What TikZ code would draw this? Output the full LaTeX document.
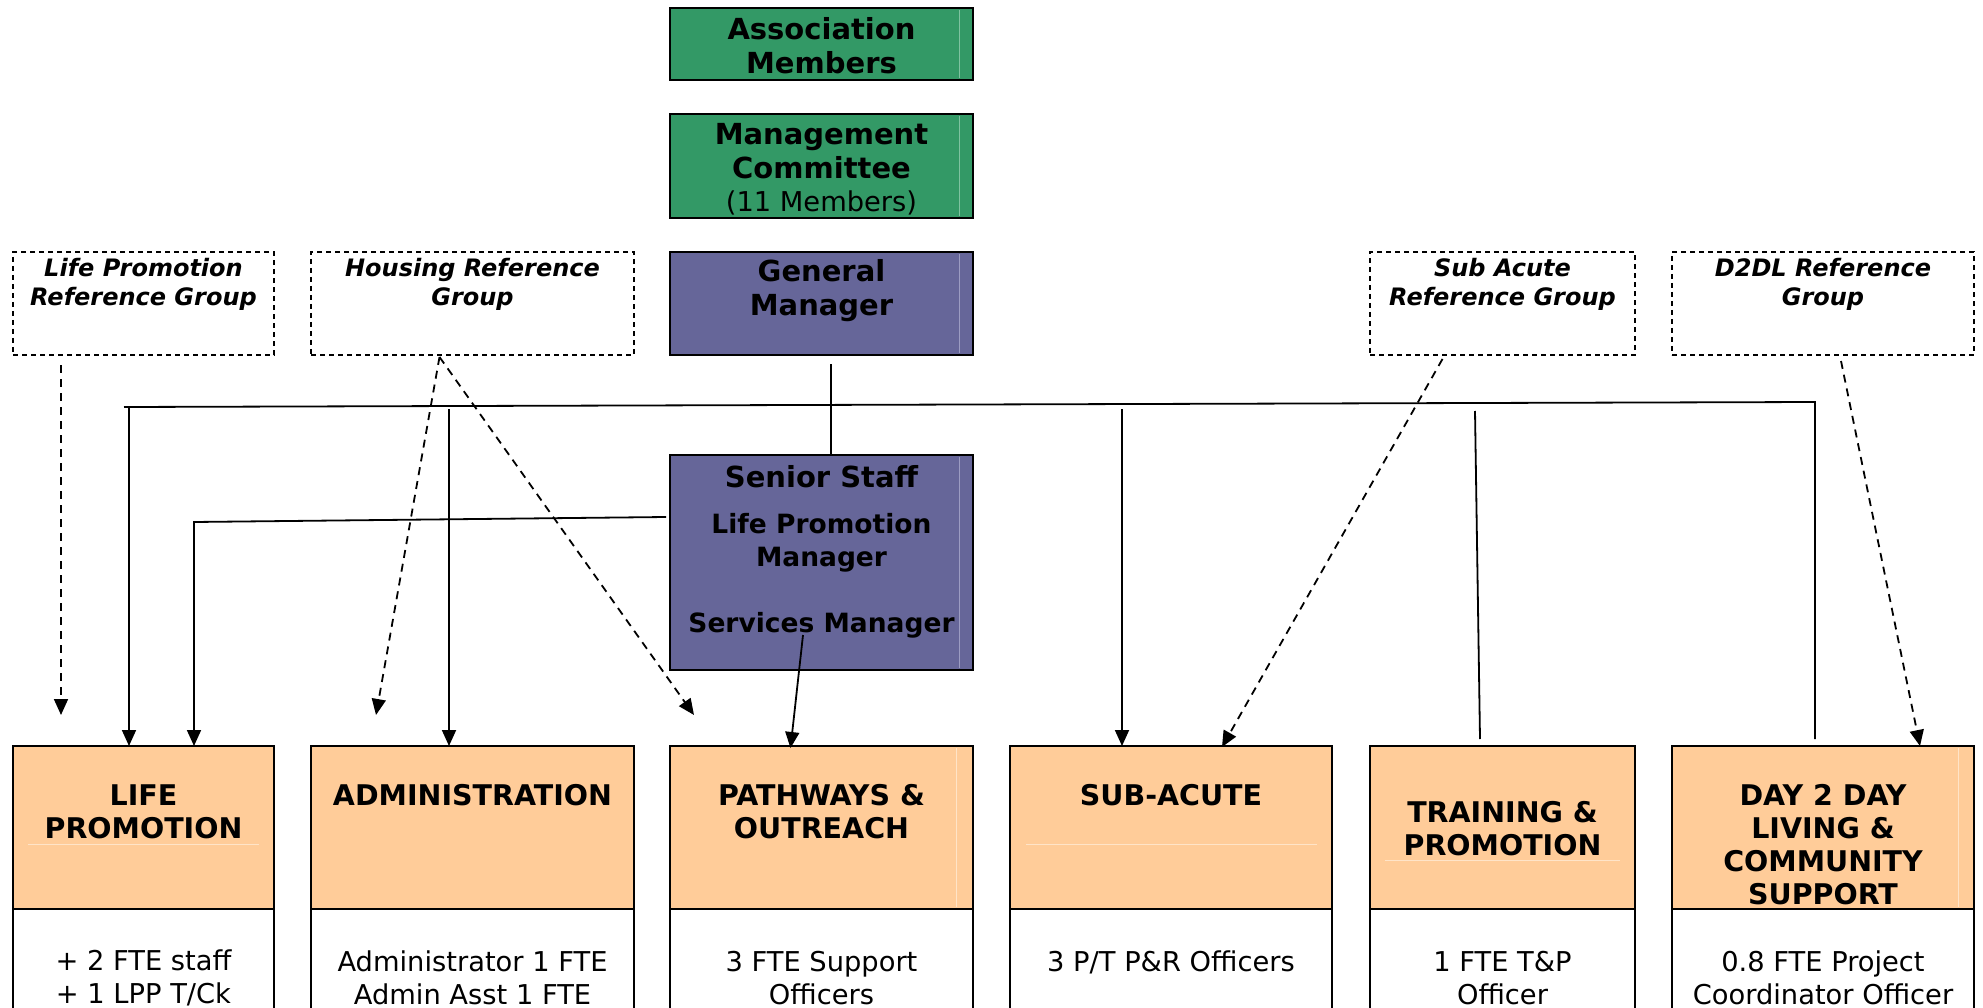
\documentclass[tikz,border=0pt]{standalone}
\usepackage{fontspec}
\setmainfont{DejaVu Sans}
\usetikzlibrary{arrows.meta,calc}
\definecolor{grn}{HTML}{339966}
\definecolor{prp}{HTML}{666699}
\definecolor{org}{HTML}{FFCC99}
\definecolor{grnlite}{HTML}{7FC2A0}
\definecolor{prplite}{HTML}{9C9CC2}
\definecolor{orglite}{HTML}{FFE4C8}
\tikzset{
  box/.style={draw=black, line width=2.2pt, anchor=north west, inner sep=0pt, outer sep=0pt},
  refbox/.style={draw=black, line width=1.6pt, dash pattern=on 5pt off 4pt, anchor=north west, inner sep=0pt, outer sep=0pt},
  conn/.style={line width=1.8pt},
  arr/.style={conn, -{Triangle[length=16pt,width=14pt]}},
  darr/.style={arr, dash pattern=on 8pt off 6pt},
  ttl/.style={font=\bfseries\fontsize{29}{34}\selectfont, align=center, inner sep=0pt},
  subt/.style={font=\bfseries\fontsize{26.5}{33}\selectfont, align=center, inner sep=0pt},
  reg/.style={font=\fontsize{27.3}{33}\selectfont, align=center, inner sep=0pt},
  hd/.style={font=\bfseries\fontsize{28.5}{33}\selectfont, align=center, inner sep=0pt},
  reft/.style={font=\bfseries\itshape\fontsize{24}{29}\selectfont, align=center, inner sep=0pt},
  liteln/.style={line width=1pt}
}
\begin{document}
\begin{tikzpicture}[x=1pt,y=-1pt]
\useasboundingbox (0,0) rectangle (1983,1008);
\clip (0,0) rectangle (1983,1008);
\fill[white] (0,0) rectangle (1983,1008);

% top column
\node[box, fill=grn, minimum width=303pt, minimum height=72pt] (am) at (670,8) {};
\node[box, fill=grn, minimum width=303pt, minimum height=104pt] (mc) at (670,114) {};
\node[box, fill=prp, minimum width=303pt, minimum height=103pt] (gm) at (670,252) {};
\node[box, fill=prp, minimum width=303pt, minimum height=215pt] (ss) at (670,455) {};
\draw[liteln, grnlite] (959,10) -- (959,78);
\draw[liteln, grnlite] (959,116) -- (959,216);
\draw[liteln, prplite] (959,254) -- (959,353);
\draw[liteln, prplite] (959,457) -- (959,668);

\node[ttl] (amt) at (821.5,45.5) {Association\\Members};
\node[ttl] (mct) at (821.5,151.5) {Management\\Committee};
\node[reg] (mcn) at (821.5,203) {(11 Members)};
\node[ttl] (gmt) at (821.5,290.5) {General\\Manager};
\node[ttl] (sst) at (821.5,476.5) {Senior Staff};
\node[subt] (ssl) at (821.5,543) {Life Promotion\\Manager};
\node[subt] (sss) at (821.5,625) {Services Manager};

% reference groups
\node[refbox, minimum width=261pt, minimum height=103pt] (rg1) at (13,252) {};
\node[refbox, minimum width=323pt, minimum height=103pt] (rg2) at (311,252) {};
\node[refbox, minimum width=265pt, minimum height=103pt] (rg3) at (1370,252) {};
\node[refbox, minimum width=302pt, minimum height=103pt] (rg4) at (1672,252) {};
\node[reft] (rg1t) at (143.5,284.5) {Life Promotion\\Reference Group};
\node[reft] (rg2t) at (472.5,284.5) {Housing Reference\\Group};
\node[reft] (rg3t) at (1502.5,284.5) {Sub Acute\\Reference Group};
\node[reft] (rg4t) at (1823,284.5) {D2DL Reference\\Group};

% bottom boxes: orange heads and white bodies
\node[box, fill=org, minimum width=261pt, minimum height=163pt] (h1) at (13,746) {};
\node[box, fill=org, minimum width=323pt, minimum height=163pt] (h2) at (311,746) {};
\node[box, fill=org, minimum width=303pt, minimum height=163pt] (h3) at (670,746) {};
\node[box, fill=org, minimum width=322pt, minimum height=163pt] (h4) at (1010,746) {};
\node[box, fill=org, minimum width=265pt, minimum height=163pt] (h5) at (1370,746) {};
\node[box, fill=org, minimum width=302pt, minimum height=163pt] (h6) at (1672,746) {};
\node[box, fill=white, minimum width=261pt, minimum height=120pt] (w1) at (13,909) {};
\node[box, fill=white, minimum width=323pt, minimum height=120pt] (w2) at (311,909) {};
\node[box, fill=white, minimum width=303pt, minimum height=120pt] (w3) at (670,909) {};
\node[box, fill=white, minimum width=322pt, minimum height=120pt] (w4) at (1010,909) {};
\node[box, fill=white, minimum width=265pt, minimum height=120pt] (w5) at (1370,909) {};
\node[box, fill=white, minimum width=302pt, minimum height=120pt] (w6) at (1672,909) {};
\draw[liteln, orglite] (28,844) -- (259,844);
\draw[liteln, orglite] (1026,844) -- (1317,844);
\draw[liteln, orglite] (1385,860) -- (1620,860);
\draw[liteln, orglite] (956,748) -- (956,907);
\draw[liteln, orglite] (1958,748) -- (1958,907);

\node[hd] (h1t) at (143.5,812) {LIFE\\PROMOTION};
\node[hd] (h2t) at (472.5,795.5) {ADMINISTRATION};
\node[hd] (h3t) at (821.5,812) {PATHWAYS \&\\OUTREACH};
\node[hd] (h4t) at (1171,795.5) {SUB-ACUTE};
\node[hd] (h5t) at (1502.5,829) {TRAINING \&\\PROMOTION};
\node[hd] (h6t) at (1823,845) {DAY 2 DAY\\LIVING \&\\COMMUNITY\\SUPPORT};

\node[reg] (w1t) at (143.5,978) {+ 2 FTE staff\\+ 1 LPP T/Ck};
\node[reg] (w2t) at (472.5,978) {Administrator 1 FTE\\Admin Asst 1 FTE};
\node[reg] (w3t) at (821.5,978) {3 FTE Support\\Officers};
\node[reg] (w4t) at (1171,962) {3 P/T P\&R Officers};
\node[reg] (w5t) at (1502.5,978) {1 FTE T\&P\\Officer};
\node[reg] (w6t) at (1823,978) {0.8 FTE Project\\Coordinator Officer};

% connectors
\draw[conn] ($(gm.south)+(9.5,9)$) -- ($(ss.north)+(9.5,0)$);
\coordinate (busL) at (124,407);
\coordinate (busR) at (1815,402);
\coordinate (busE) at (1815,739);
\draw[conn] (busL) -- (busR) -- (busE);
\coordinate (d1) at (129,408);
\coordinate (d2) at (449,409);
\coordinate (d4) at (1122,409);
\draw[arr] (d1) -- (d1 |- h1.north);
\draw[arr] (d2) -- (d2 |- h2.north);
\draw[arr] (d4) -- (d4 |- h4.north);
\coordinate (t1) at (1475,411);
\coordinate (t2) at (1480,739);
\draw[conn] (t1) -- (t2);
\coordinate (lp2) at (194,522);
\draw[arr] ($(ss.west)+(-4,-45.5)$) -- (lp2) -- (lp2 |- h1.north);
\draw[arr] ($(ss.south)+(-18.5,-35)$) -- ($(h3.north)+(-31,2)$);

% dashed connectors
\coordinate (e1) at (61,715);
\coordinate (e2) at (376,715);
\coordinate (e3) at (694,715);
\draw[darr] ($(rg1.south)+(-82.5,10)$) -- (e1);
\draw[darr] ($(rg2.south)+(-33,2)$) -- (e2);
\draw[darr] ($(rg2.south)+(-33,2)$) -- (e3);
\draw[darr] ($(rg3.south)+(-60,4)$) -- ($(h4.north)+(51,1)$);
\draw[darr] ($(rg4.south)+(18,6)$) -- ($(h6.north)+(97,0)$);
\end{tikzpicture}
\end{document}
